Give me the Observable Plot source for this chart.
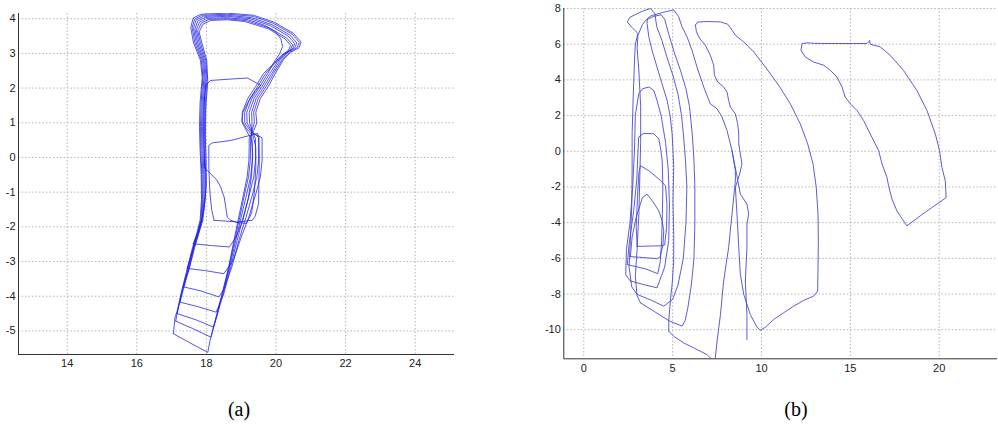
<!DOCTYPE html>
<html><head><meta charset="utf-8">
<script src="https://cdn.jsdelivr.net/npm/d3@7"></script>
<script src="https://cdn.jsdelivr.net/npm/@observablehq/plot@0.6"></script>
<style>
body{margin:0;background:#fff;}
#wrap{position:relative;width:998px;height:427px;overflow:hidden;background:#fff;}
.panel{position:absolute;top:0;}
.cap{position:absolute;font-family:"Liberation Serif","Times New Roman",serif;font-size:20px;color:#000;transform:translate(-50%,-50%);white-space:nowrap;}
</style></head><body>
<div id="wrap">
 <div id="pa" class="panel" style="left:0px"></div>
 <div id="pb" class="panel" style="left:530px"></div>
 <div class="cap" style="left:239px;top:409px">(a)</div>
 <div class="cap" style="left:796px;top:409px">(b)</div>
</div>
<script>
// ---------- Panel (a) ----------
const xTicksA = [14,16,18,20,22,24];
const yTicksA = [-5,-4,-3,-2,-1,0,1,2,3,4];
const loopA1 = [[17.05,-5.08],[17.1,-4.6],[17.17,-4.4],[17.3,-3.8],[17.45,-3.2],[17.6,-2.6],[17.72,-2.2],[17.82,-1.8],[17.86,-1.2],[17.85,-0.5],[17.82,0.2],[17.8,0.9],[17.82,1.6],[17.88,2.3],[17.83,2.8],[17.63,3.3],[17.55,3.75],[17.62,4.02],[17.85,4.13],[18.6,4.16],[19.35,4.1],[19.95,3.9],[20.5,3.58],[20.72,3.33],[20.66,3.16],[20.42,3.03],[20.22,2.83],[19.98,2.42],[19.78,2.05],[19.55,1.7],[19.42,1.3],[19.45,1.0],[19.35,0.75],[19.23,0.55],[19.23,0.3],[19.22,-0.1],[19.17,-0.56],[19.07,-1.05],[18.93,-1.72],[18.79,-2.4],[18.64,-3.16],[18.45,-3.93],[18.26,-4.69],[18.1,-5.3],[18.04,-5.62],[17.5,-5.33],[17.05,-5.08]];
const loopA2 = [[17.12,-4.72],[17.17,-4.4],[17.31,-3.8],[17.47,-3.2],[17.62,-2.6],[17.74,-2.2],[17.84,-1.8],[17.88,-1.2],[17.87,-0.5],[17.84,0.2],[17.83,0.9],[17.85,1.6],[17.9,2.3],[17.86,2.8],[17.67,3.3],[17.59,3.74],[17.66,3.99],[17.88,4.1],[18.6,4.13],[19.33,4.07],[19.92,3.87],[20.46,3.56],[20.67,3.32],[20.61,3.17],[20.38,3.03],[20.18,2.82],[19.93,2.42],[19.72,2.05],[19.49,1.7],[19.36,1.3],[19.38,1.0],[19.3,0.75],[19.27,0.5],[19.27,0.3],[19.26,-0.1],[19.21,-0.56],[19.1,-1.05],[18.96,-1.72],[18.81,-2.4],[18.65,-3.16],[18.46,-3.93],[18.28,-4.6],[18.13,-5.18],[17.6,-4.93],[17.12,-4.72]];
const loopA3 = [[17.16,-4.5],[17.32,-3.8],[17.48,-3.2],[17.63,-2.6],[17.75,-2.2],[17.86,-1.8],[17.9,-1.2],[17.9,-0.5],[17.87,0.2],[17.86,0.9],[17.88,1.6],[17.93,2.3],[17.89,2.8],[17.71,3.3],[17.63,3.72],[17.7,3.96],[17.92,4.07],[18.6,4.1],[19.3,4.03],[19.88,3.83],[20.4,3.53],[20.6,3.3],[20.54,3.16],[20.32,3.02],[20.12,2.8],[19.88,2.42],[19.66,2.05],[19.43,1.7],[19.3,1.3],[19.31,1.0],[19.3,0.7],[19.32,0.3],[19.32,-0.1],[19.27,-0.56],[19.16,-1.05],[19.0,-1.72],[18.84,-2.4],[18.67,-3.16],[18.48,-3.93],[18.3,-4.6],[18.2,-4.89],[17.7,-4.68],[17.16,-4.5]];
const loopA4 = [[17.24,-4.17],[17.34,-3.8],[17.5,-3.2],[17.65,-2.6],[17.77,-2.2],[17.88,-1.8],[17.93,-1.2],[17.93,-0.5],[17.9,0.2],[17.89,0.9],[17.91,1.6],[17.96,2.3],[17.92,2.8],[17.75,3.3],[17.67,3.7],[17.75,3.93],[17.97,4.04],[18.6,4.07],[19.26,4.0],[19.84,3.8],[20.35,3.5],[20.54,3.28],[20.48,3.14],[20.26,2.99],[20.06,2.78],[19.82,2.42],[19.6,2.05],[19.37,1.7],[19.23,1.3],[19.24,1.0],[19.32,0.75],[19.41,0.55],[19.41,0.3],[19.41,-0.1],[19.36,-0.56],[19.24,-1.05],[19.06,-1.72],[18.88,-2.4],[18.7,-3.16],[18.5,-3.93],[18.28,-4.46],[17.75,-4.3],[17.24,-4.17]];
const loopA5 = [[17.34,-3.73],[17.51,-3.2],[17.66,-2.6],[17.78,-2.2],[17.9,-1.8],[17.96,-1.2],[17.96,-0.5],[17.93,0.2],[17.92,0.9],[17.94,1.6],[17.99,2.3],[17.95,2.8],[17.79,3.3],[17.71,3.68],[17.8,3.9],[18.02,4.01],[18.6,4.03],[19.2,3.97],[19.65,3.82],[19.97,3.64],[20.14,3.42],[20.19,3.2],[20.1,2.98],[19.94,2.74],[19.76,2.42],[19.54,2.05],[19.31,1.7],[19.16,1.3],[19.17,1.0],[19.3,0.75],[19.5,0.58],[19.5,0.3],[19.5,-0.1],[19.45,-0.56],[19.33,-1.05],[19.14,-1.72],[18.93,-2.4],[18.73,-3.16],[18.5,-3.8],[18.36,-4.02],[17.85,-3.85],[17.34,-3.73]];
const loopA6 = [[17.45,-3.2],[17.6,-2.7],[17.72,-2.3],[17.84,-1.9],[17.93,-1.5],[17.98,-1.0],[17.98,-0.5],[17.96,0.2],[17.95,0.9],[17.97,1.6],[18.02,2.3],[17.98,2.8],[17.83,3.3],[17.75,3.65],[17.85,3.87],[18.07,3.98],[18.6,4.0],[19.16,3.94],[19.8,3.74],[20.3,3.45],[20.48,3.25],[20.42,3.11],[20.2,2.96],[20.0,2.75],[19.7,2.42],[19.48,2.05],[19.25,1.7],[19.1,1.3],[19.1,1.0],[19.3,0.72],[19.6,0.57],[19.6,0.3],[19.6,-0.1],[19.55,-0.56],[19.42,-1.05],[19.22,-1.72],[19.0,-2.3],[18.78,-2.95],[18.5,-3.35],[17.95,-3.26],[17.45,-3.2]];
const loopA7 = [[17.62,-2.49],[17.74,-2.2],[17.86,-1.8],[17.95,-1.3],[18.0,-0.8],[17.99,-0.1],[17.97,0.6],[17.98,1.4],[18.04,2.2],[18.01,2.8],[17.87,3.3],[17.79,3.62],[17.9,3.84],[18.12,3.95],[18.6,3.97],[19.1,3.92],[19.78,3.71],[20.26,3.42],[20.42,3.23],[20.36,3.09],[20.14,2.93],[19.95,2.72],[19.64,2.42],[19.42,2.05],[19.19,1.7],[19.03,1.3],[19.03,1.0],[19.16,0.76],[19.3,0.5],[19.33,0.1],[19.3,-0.5],[19.2,-1.2],[19.05,-1.8],[18.85,-2.3],[18.66,-2.58],[18.15,-2.54],[17.62,-2.49]];
const loopA8 = [[17.95,-0.3],[17.93,0.6],[17.93,1.5],[17.98,2.08],[18.12,2.22],[18.7,2.26],[19.18,2.29],[19.47,2.13],[19.56,2.08],[19.4,1.9],[19.2,1.6],[19.05,1.3],[19.02,1.05],[19.18,0.8],[19.35,0.6],[19.42,0.3],[19.42,-0.3],[19.38,-1.0],[19.3,-1.6],[19.15,-1.9],[18.9,-1.88],[18.7,-1.81],[18.6,-1.72],[18.51,-1.14],[18.41,-0.85],[18.3,-0.65],[18.12,-0.47],[17.95,-0.3]];
const loopA9 = [[18.22,-1.81],[18.15,-1.5],[18.1,-1.0],[18.07,-0.3],[18.07,0.35],[18.17,0.42],[18.7,0.49],[19.27,0.64],[19.47,0.69],[19.51,0.59],[19.52,0.0],[19.51,-0.7],[19.5,-1.33],[19.4,-1.7],[19.32,-1.81],[18.9,-1.86],[18.22,-1.81]];

// ---------- Panel (b) ----------
const xTicksB = [0,5,10,15,20];
const yTicksB = [-10,-8,-6,-4,-2,0,2,4,6,8];
const loopB1 = [[16.08,6.19],[16.12,6.0],[16.68,5.85],[17.24,5.38],[17.99,4.53],[18.74,3.41],[19.31,2.29],[19.78,0.97],[20.02,0.04],[20.15,-0.9],[20.34,-1.65],[20.39,-2.59],[20.15,-2.77],[19.59,-3.15],[18.93,-3.62],[18.18,-4.18],[17.99,-3.9],[17.62,-3.34],[17.34,-2.68],[17.15,-1.93],[17.06,-1.46],[16.78,-0.71],[16.59,0.04],[16.4,0.41],[16.12,0.97],[15.75,1.72],[15.37,2.29],[15.0,2.66],[14.71,3.04],[14.53,3.6],[14.25,4.16],[13.87,4.54],[13.5,4.82],[12.93,5.0],[12.46,5.29],[12.22,5.66],[12.28,6.04],[12.56,6.07],[13.31,6.04],[15.18,6.04],[15.93,6.04],[16.08,6.19]];
const loopB2 = [[6.28,7.07],[6.41,7.24],[6.94,7.27],[7.69,7.25],[8.1,7.12],[8.34,6.79],[8.53,6.5],[9.0,6.13],[9.56,5.57],[10.22,4.72],[10.97,3.69],[11.62,2.66],[12.18,1.54],[12.6,0.41],[12.9,-0.71],[13.08,-2.02],[13.18,-3.52],[13.2,-5.02],[13.18,-6.52],[13.16,-7.84],[12.93,-8.12],[12.37,-8.36],[11.81,-8.68],[11.25,-9.05],[10.68,-9.43],[10.22,-9.86],[9.93,-10.03],[9.75,-9.86],[9.37,-9.15],[9.0,-8.02],[8.81,-6.9],[8.72,-5.4],[8.62,-3.52],[8.53,-2.02],[8.77,-1.27],[8.9,-0.71],[8.81,-0.15],[8.72,0.41],[8.72,0.97],[8.66,1.54],[8.53,2.1],[8.25,2.47],[8.15,2.85],[8.06,3.32],[7.87,3.6],[7.54,3.88],[7.35,4.25],[7.31,4.82],[7.12,5.38],[6.84,5.94],[6.52,6.32],[6.34,6.69],[6.28,7.07]];
const loopB3 = [[4.78,-10.08],[4.78,-9.52],[4.87,-8.4],[4.97,-7.46],[5.06,-6.15],[5.06,-4.65],[5.02,-2.77],[5.06,-0.9],[5.02,0.04],[4.97,0.97],[4.87,1.91],[4.69,2.85],[4.4,3.79],[4.12,4.72],[3.84,5.66],[3.66,6.41],[3.56,7.16],[3.58,7.44],[3.8,7.6],[4.6,7.82],[5.06,7.92],[5.34,7.54],[5.53,6.97],[5.81,6.41],[6.09,5.66],[6.37,4.72],[6.75,3.6],[7.12,2.66],[7.5,2.38],[7.78,1.91],[8.06,1.16],[8.34,0.04],[8.53,-1.09],[8.53,-1.65],[8.34,-3.52],[8.15,-5.4],[7.87,-7.27],[7.69,-9.15],[7.5,-10.65],[7.4,-11.58],[7.22,-11.68],[6.94,-11.4],[6.19,-11.02],[5.62,-10.74],[5.06,-10.37],[4.78,-10.08]];
const trackEndB = [[8.34,0.04],[8.6,-1.3],[8.81,-2.4],[9.18,-2.96],[9.28,-3.52],[9.18,-4.09],[9.18,-5.4],[9.09,-7.27],[9.18,-9.15],[9.18,-10.55]];
const loopK1 = [[3.0,-5.33],[2.95,-4.2],[3.02,-2.6],[3.1,-1.2],[3.19,-0.81],[3.66,-1.09],[4.22,-1.55],[4.6,-1.93],[4.68,-3.0],[4.66,-4.3],[4.55,-5.25],[4.3,-5.3],[3.0,-5.33]];
const loopK2 = [[2.62,-5.9],[2.72,-4.8],[2.95,-3.7],[3.3,-2.6],[3.56,-2.4],[3.85,-2.77],[4.22,-3.34],[4.41,-3.9],[4.5,-4.46],[4.45,-5.3],[4.3,-5.9],[4.15,-6.02],[2.62,-5.9]];
const loopK3 = [[2.45,-6.35],[2.55,-5.2],[2.8,-3.4],[2.98,-1.6],[3.05,0.0],[3.09,0.8],[3.37,1.0],[3.94,0.98],[4.22,0.69],[4.31,0.22],[4.41,-0.5],[4.45,-2.0],[4.42,-3.5],[4.38,-5.0],[4.3,-6.2],[4.16,-6.86],[3.5,-6.6],[2.45,-6.35]];
const loopK4 = [[2.62,-7.27],[2.36,-6.92],[2.4,-5.5],[2.6,-4.0],[2.75,-2.0],[2.85,0.0],[2.9,2.0],[3.09,3.22],[3.3,3.5],[3.66,3.6],[3.94,3.41],[4.12,2.85],[4.35,2.0],[4.6,0.5],[4.75,-1.0],[4.82,-3.0],[4.78,-5.0],[4.55,-6.5],[4.12,-7.65],[3.4,-7.48],[2.62,-7.27]];
const loopK5 = [[3.0,-8.02],[2.7,-7.6],[2.55,-6.5],[2.62,-5.0],[2.7,-3.0],[2.72,-1.0],[2.72,1.0],[2.78,3.0],[2.85,5.0],[2.9,6.0],[3.05,6.6],[2.7,6.95],[2.45,7.25],[2.58,7.5],[3.3,7.85],[3.75,8.0],[4.0,7.72],[4.1,7.0],[4.4,6.2],[4.7,5.2],[5.0,4.3],[5.3,3.2],[5.5,2.0],[5.62,0.8],[5.72,-0.5],[5.8,-2.0],[5.75,-4.0],[5.6,-6.0],[5.3,-7.5],[5.0,-8.3],[4.5,-8.68],[3.8,-8.35],[3.0,-8.02]];
const loopK6 = [[3.19,-8.49],[3.0,-8.1],[2.9,-7.0],[3.0,-5.5],[3.1,-3.5],[3.15,-1.5],[3.2,0.5],[3.2,2.5],[3.1,4.5],[3.0,5.8],[3.05,6.5],[3.3,7.1],[3.5,7.35],[3.9,7.55],[4.35,7.65],[4.55,7.4],[4.8,6.5],[5.1,5.5],[5.45,4.5],[5.75,3.5],[5.95,2.5],[6.1,1.0],[6.2,-0.5],[6.25,-2.0],[6.25,-4.0],[6.2,-6.0],[6.05,-7.5],[5.85,-8.8],[5.7,-9.5],[5.53,-9.8],[4.8,-9.5],[4.0,-9.0],[3.19,-8.49]];

const toRows = (tracks) => tracks.flatMap((pts, i) => pts.map(([x, y]) => ({x, y, id: i})));
const rowsA = toRows([loopA1, loopA2, loopA3, loopA4, loopA5, loopA6, loopA7, loopA8, loopA9]);
const rowsB = toRows([loopB1, loopB2, loopB3, trackEndB, loopK1, loopK2, loopK3, loopK4, loopK5, loopK6]);

const fmt = d => String(d);
const gridStyle = {stroke: "#b4b4b4", strokeOpacity: 1, strokeWidth: 1, strokeDasharray: "1.5,2"};
const axisColor = "#333";
const fontStyle = {fontFamily: "'Liberation Sans', Arial, sans-serif", fontSize: "11px", color: "#222", background: "transparent"};

function panel({width, height, margins, xDomain, yDomain, xTicks, yTicks, rows, stroke, strokeWidth, opacity}) {
  return Plot.plot({
    width, height,
    marginLeft: margins[0], marginRight: margins[1], marginTop: margins[2], marginBottom: margins[3],
    x: {domain: xDomain}, y: {domain: yDomain},
    style: fontStyle,
    marks: [
      Plot.gridX(xTicks, gridStyle),
      Plot.gridY(yTicks, gridStyle),
      Plot.axisX(xTicks, {tickSize: 0, tickPadding: 5, tickFormat: fmt, label: null}),
      Plot.axisY(yTicks, {tickSize: 0, tickPadding: 3, tickFormat: fmt, label: null}),
      Plot.line(rows, {x: "x", y: "y", z: "id", stroke, strokeWidth, strokeOpacity: opacity, strokeLinejoin: "round", clip: true}),
      Plot.ruleX([xDomain[0]], {stroke: axisColor, strokeWidth: 1}),
      Plot.ruleY([yDomain[0]], {stroke: axisColor, strokeWidth: 1})
    ]
  });
}

document.getElementById("pa").appendChild(panel({
  width: 470, height: 380, margins: [18, 16, 13, 26],
  xDomain: [12.6, 25.13], yDomain: [-5.68, 4.15],
  xTicks: xTicksA, yTicks: yTicksA, rows: rowsA,
  stroke: "#1e1ee6", strokeWidth: 0.9, opacity: 0.85
}));
document.getElementById("pb").appendChild(panel({
  width: 468, height: 390, margins: [33.3, 1, 8, 31.7],
  xDomain: [-1.125, 23.28], yDomain: [-11.63, 8],
  xTicks: xTicksB, yTicks: yTicksB, rows: rowsB,
  stroke: "#4a4ad2", strokeWidth: 1, opacity: 0.9
}));
</script>
</body></html>
